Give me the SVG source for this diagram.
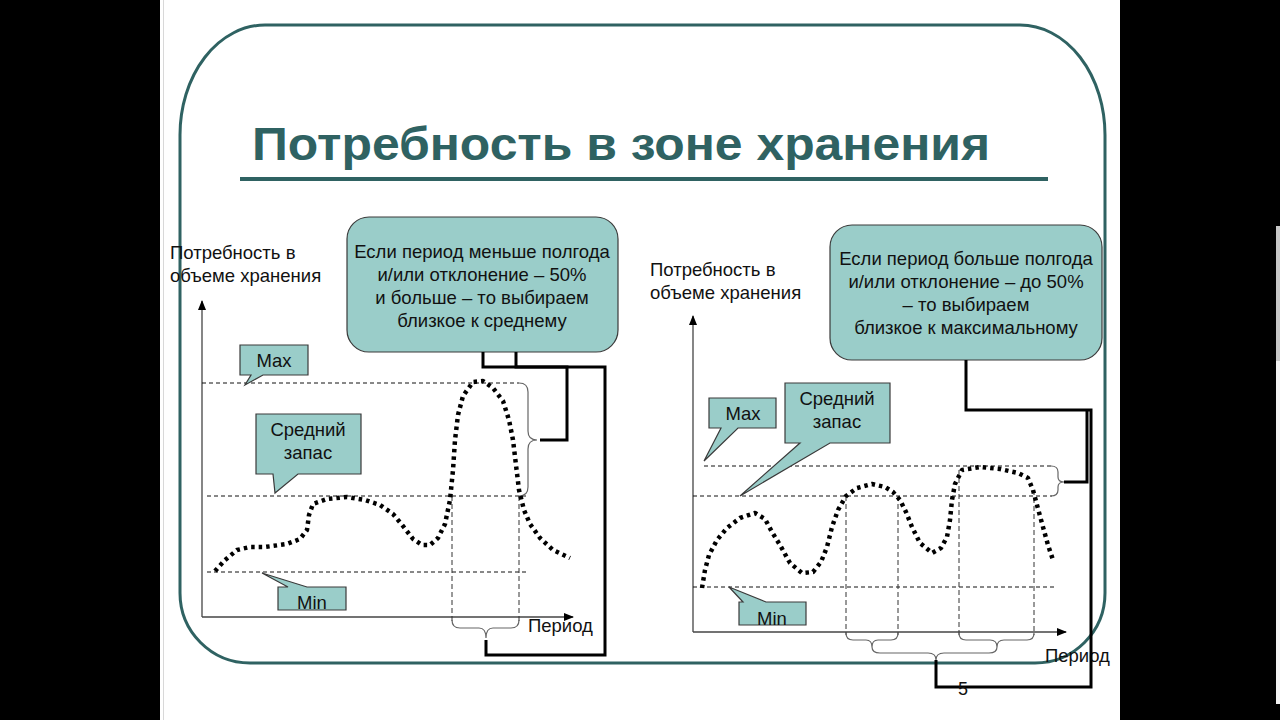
<svg xmlns="http://www.w3.org/2000/svg" width="1280" height="720" viewBox="0 0 1280 720">
<defs>
<marker id="arr" markerUnits="userSpaceOnUse" markerWidth="10" markerHeight="10" refX="9" refY="5" orient="auto">
<path d="M0,1 L10,5 L0,9 Z" fill="#000"/>
</marker>
<style>
.t{font-family:"Liberation Sans",Arial,sans-serif;font-size:18.5px;fill:#111}
.c{text-anchor:middle}
.box{fill:#9ACDC9;stroke:#3a3a3a;stroke-width:1.2}
.axis{stroke:#444;stroke-width:1.3;fill:none}
.dash{stroke:#111;stroke-width:1;stroke-dasharray:4 3;fill:none}
.vd{stroke:#333;stroke-width:1;stroke-dasharray:5 3;fill:none}
.brace{stroke:#666;stroke-width:1.2;fill:none}
.dots{stroke:#000;stroke-width:4.5;stroke-dasharray:3.5 4;fill:none;stroke-linejoin:round}
.conn{stroke:#000;stroke-width:3;fill:none}
</style>
</defs>
<rect x="0" y="0" width="1280" height="720" fill="#000"/>
<rect x="160" y="0" width="960" height="720" fill="#fff"/>
<line x1="163.5" y1="0" x2="163.5" y2="720" stroke="#d8d8d8" stroke-width="1"/>
<rect x="1276" y="226" width="4" height="478" fill="#f2f2f2"/>
<rect x="1276" y="226" width="4" height="135" fill="#c8c8c8"/>

<g id="frame">
<path d="M265,25 H1020 A85,110 0 0 1 1105,135 V593 A70,70 0 0 1 1035,663 H250 A70,70 0 0 1 180,593 V135 A85,110 0 0 1 265,25 Z" fill="none" stroke="#2F6262" stroke-width="3"/>
</g>

<g id="title">
<text x="252" y="160" font-family="Liberation Sans,Arial,sans-serif" font-weight="bold" font-size="46" fill="#2F6262" textLength="738" lengthAdjust="spacingAndGlyphs">Потребность в зоне хранения</text>
<line x1="240" y1="179" x2="1048" y2="179" stroke="#2F6262" stroke-width="4"/>
</g>

<!-- LEFT CHART -->
<g id="left-axes">
<line class="axis" x1="202" y1="617" x2="202" y2="301" marker-end="url(#arr)"/>
<line class="axis" x1="202" y1="617" x2="573" y2="617" marker-end="url(#arr)"/>
<text class="t" x="170" y="259">Потребность в</text>
<text class="t" x="170" y="282">объеме хранения</text>
<text class="t" x="528" y="632">Период</text>
</g>
<g id="left-guides">
<line class="dash" x1="202" y1="383" x2="519" y2="383"/>
<line class="dash" x1="207" y1="496" x2="528" y2="496"/>
<line class="dash" x1="207" y1="572" x2="527" y2="572"/>
<line class="vd" x1="452" y1="496" x2="452" y2="622"/>
<line class="vd" x1="519" y1="496" x2="519" y2="622"/>
</g>
<g id="left-braces">
<path class="brace" d="M452,620 Q452,628 460,628 H479 Q486,628 486,638 Q486,628 493,628 H511 Q519,628 519,620"/>
<path class="brace" d="M519,383 Q528,383 528,392 V431 Q528,440 537,440 Q528,440 528,449 V487 Q528,496 519,496"/>
</g>
<g id="left-curve">
<polyline class="dots" points="215,571 225,560 237,550 250,547 265,547 287,544 300,539 307,530 309,515 313,504 327,499 347,497 365,500 380,505 393,514 403,526 413,539 422,545 430,545 438,538 445,524 450,500 453,470 455,440 458,415 463,396 473,382 483,381 493,388 503,401 509,420 513,440 516,465 519,490 524,510 530,524 540,538 553,550 570,558"/>
</g>

<g id="left-callout-main">
<rect class="box" x="347" y="217" width="271" height="135" rx="22"/>
<text class="t c" x="482" y="258">Если период меньше полгода</text>
<text class="t c" x="482" y="281">и/или отклонение – 50%</text>
<text class="t c" x="482" y="304">и больше – то выбираем</text>
<text class="t c" x="482" y="327">близкое к среднему</text>
</g>
<g id="left-max">
<path class="box" d="M240,345 H308 V375 H263 L245,385 L251,375 H240 Z"/>
<text class="t c" x="274" y="367">Max</text>
</g>
<g id="left-avg">
<path class="box" d="M256,414 H361 V474 H298 L275,493 L273,474 H256 Z"/>
<text class="t c" x="308" y="436">Средний</text>
<text class="t c" x="308" y="459">запас</text>
</g>
<g id="left-min">
<path class="box" d="M278,587 H288 L262,573 L307,587 H346 V610 H278 Z"/>
<text class="t c" x="312" y="609">Min</text>
</g>

<!-- RIGHT CHART -->
<g id="right-axes">
<line class="axis" x1="693" y1="632" x2="693" y2="316" marker-end="url(#arr)"/>
<line class="axis" x1="693" y1="632" x2="1066" y2="632" marker-end="url(#arr)"/>
<text class="t" x="650" y="276">Потребность в</text>
<text class="t" x="650" y="299">объеме хранения</text>
<text class="t" x="1045" y="662">Период</text>
</g>
<g id="right-guides">
<line class="dash" x1="704" y1="466" x2="1052" y2="466"/>
<line class="dash" x1="693" y1="496" x2="1052" y2="496"/>
<line class="dash" x1="693" y1="587" x2="1057" y2="587"/>
<line class="vd" x1="846" y1="496" x2="846" y2="635"/>
<line class="vd" x1="898" y1="496" x2="898" y2="635"/>
<line class="vd" x1="959" y1="470" x2="959" y2="635"/>
<line class="vd" x1="1034" y1="490" x2="1034" y2="635"/>
</g>
<g id="right-braces">
<path class="brace" d="M846,633 Q846,640 853,640 H866 Q872,640 872,647 Q872,640 878,640 H891 Q898,640 898,633"/>
<path class="brace" d="M959,633 Q959,640 966,640 H990 Q997,640 997,647 Q997,640 1004,640 H1027 Q1034,640 1034,633"/>
<path class="brace" d="M872,647 Q872,653 880,653 H928 Q936,653 936,660 Q936,653 944,653 H989 Q997,653 997,647"/>
<path class="brace" d="M1051,466 Q1058,466 1058,472 V477 Q1058,482 1064,482 Q1058,482 1058,487 V490 Q1058,496 1051,496"/>
</g>
<g id="right-curve">
<polyline class="dots" points="702,588 705,570 709,555 717,540 727,528 740,518 755,513 765,519 772,532 780,545 790,563 802,573 813,572 821,562 827,547 832,527 838,510 846,496 857,488 872,484 885,487 893,492 900,500 906,512 912,527 920,543 932,553 941,548 947,537 950,520 952,500 955,484 962,470 980,467 1000,469 1018,473 1028,478 1033,490 1037,505 1043,527 1048,545 1053,560"/>
</g>

<g id="right-callout-main">
<rect class="box" x="830" y="225" width="272" height="135" rx="22"/>
<text class="t c" x="966" y="265">Если период больше полгода</text>
<text class="t c" x="966" y="288">и/или отклонение – до 50%</text>
<text class="t c" x="966" y="311">– то выбираем</text>
<text class="t c" x="966" y="334">близкое к максимальному</text>
</g>
<g id="right-max">
<path class="box" d="M709,398 H776 V428 H738 L704,461 L721,428 H709 Z"/>
<text class="t c" x="743" y="420">Max</text>
</g>
<g id="right-avg">
<path class="box" d="M785,383 H890 V443 H830 L740,496 L800,443 H785 Z"/>
<text class="t c" x="837" y="405">Средний</text>
<text class="t c" x="837" y="428">запас</text>
</g>
<g id="right-min">
<path class="box" d="M739,602 H743 L729,587 L766,602 H806 V625 H739 Z"/>
<text class="t c" x="772" y="625">Min</text>
</g>

<g id="connectors">
<path class="conn" d="M483,352 V367 H605 V655 H486 V640"/>
<path class="conn" d="M516,352 V367 H567 V440 H540"/>
<path class="conn" d="M966,360 V410 H1091 V687 H936 V660"/>
<path class="conn" d="M1064,482 H1087 V410"/>
</g>

<text x="963" y="695" font-family="Liberation Sans,Arial,sans-serif" font-size="18" fill="#111" text-anchor="middle">5</text>
</svg>
